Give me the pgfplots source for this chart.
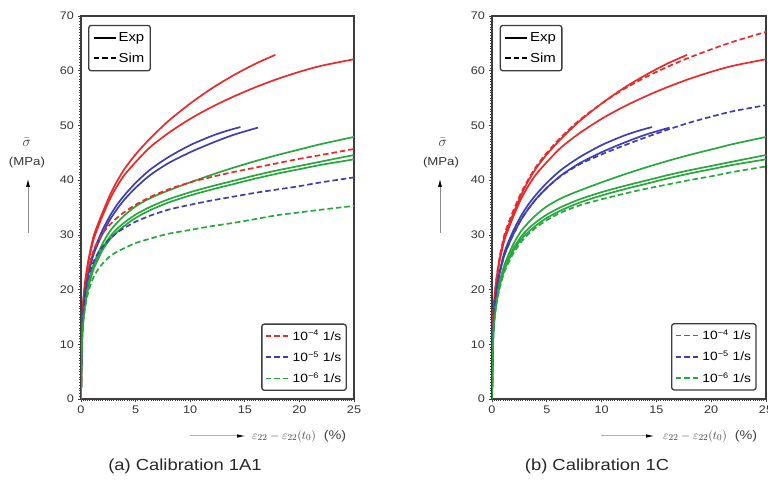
\documentclass[border=0pt]{standalone}
\usepackage{pgfplots}
\pgfplotsset{compat=1.18}
\usepackage{pgfplotstable}
\usepackage{fontspec}
\setmainfont[FakeStretch=1.15]{Liberation Sans}
\usetikzlibrary{arrows.meta}

\definecolor{cred}{RGB}{236,40,40}
\definecolor{cblue}{RGB}{62,62,178}
\definecolor{cgreen}{RGB}{40,168,60}
\definecolor{frame}{RGB}{60,60,60}

% Experimental curves (same in both panels)
\pgfplotstableread{
x y
0 0
0.05 9
0.1 14
0.2 17.8
0.4 21.8
0.7 25.6
1.13 29.6
1.6 32.2
2 34.2
2.66 37.3
3.3 39.8
4 42.1
5 44.7
6.32 47.6
8 50.8
10 54
12 56.8
14 59.2
16 61.3
17.8 62.9
}\expRedA
\pgfplotstableread{
x y
0 0
0.05 9
0.1 14
0.2 17.6
0.4 21.5
0.7 25.3
1.13 29
1.6 31.6
2 33.6
2.66 36.6
3.3 38.9
4 41
5 43.3
6.32 46
8 48.6
10 51.2
12 53.4
14 55.3
16 57
18 58.5
20 59.8
22 60.9
25 62.1
}\expRedB
\pgfplotstableread{
x y
0 0
0.05 8
0.1 12.5
0.2 16
0.4 19.8
0.7 23.3
1.13 26.8
1.6 29.2
2 31
2.66 33.5
3.3 35.5
4 37.3
5 39.5
6.32 41.9
8 44.2
10 46.4
12 48.1
13.5 49.1
14.6 49.7
}\expBlueA
\pgfplotstableread{
x y
0 0
0.05 8
0.1 12.5
0.2 16
0.4 19.7
0.7 23
1.13 26.3
1.6 28.6
2 30.3
2.66 32.8
3.3 34.7
4 36.5
5 38.6
6.32 40.9
8 43.1
10 45.1
12 46.8
14 48.3
16.2 49.6
}\expBlueB
\pgfplotstableread{
x y
0 0
0.05 7
0.1 11
0.2 14.5
0.4 18
0.7 21.4
1.13 24.5
1.6 26.8
2 28.5
2.66 30.7
3.3 32.2
4 33.6
5 35.2
6.32 36.7
8 38.1
10 39.6
12 41
14 42.3
16 43.5
18 44.6
20 45.6
22 46.6
25 47.9
}\expGreenA
\pgfplotstableread{
x y
0 0
0.05 7
0.1 11
0.2 14.5
0.4 17.8
0.7 21
1.13 24
1.6 26.1
2 27.7
2.66 29.7
3.3 31.1
4 32.3
5 33.7
6.32 35.1
8 36.5
10 37.8
12 38.9
14 39.9
16 40.9
18 41.8
20 42.6
22 43.4
25 44.6
}\expGreenB
\pgfplotstableread{
x y
0 0
0.05 7
0.1 10.8
0.2 14.2
0.4 17.5
0.7 20.6
1.13 23.6
1.6 25.7
2 27.3
2.66 29.2
3.3 30.5
4 31.7
5 33.1
6.32 34.5
8 35.9
10 37.2
12 38.3
14 39.3
16 40.3
18 41.2
20 42
22 42.8
25 43.8
}\expGreenC

% Simulations, calibration 1A1
\pgfplotstableread{
x y
0 0
0.05 8
0.1 12.5
0.2 16.5
0.4 20.5
0.7 24
1.13 27
1.6 29
2 30.3
2.66 31.9
3.3 33.1
4 34.2
5 35.5
6.32 36.9
8 38.3
10 39.6
12 40.6
14 41.5
16 42.3
18 43.1
20 43.9
22 44.6
25 45.7
}\simARed
\pgfplotstableread{
x y
0 0
0.05 7.5
0.1 12
0.2 15.8
0.4 19.5
0.7 22.5
1.13 25
1.6 26.8
2 27.9
2.66 29.3
3.3 30.4
4 31.3
5 32.4
6.32 33.5
8 34.6
10 35.5
12 36.3
14 37
16 37.7
18 38.3
20 38.9
22 39.6
25 40.5
}\simABlue
\pgfplotstableread{
x y
0 0
0.05 7
0.1 10.5
0.2 13.8
0.4 17
0.7 19.8
1.13 22.2
1.6 23.8
2 24.8
2.66 26.1
3.3 26.9
4 27.6
5 28.5
6.32 29.3
8 30.2
10 30.9
12 31.6
14 32.2
16 32.9
18 33.6
20 34.1
22 34.6
25 35.3
}\simAGreen

% Simulations, calibration 1C
\pgfplotstableread{
x y
0 0
0.05 9
0.1 14
0.2 17.8
0.4 22
0.7 26
1.13 30
1.6 32.7
2 34.7
2.66 37.7
3.3 40.1
4 42.4
5 45
6.32 47.9
8 51
10 54
12 56.6
14 58.8
16 60.7
18 62.4
20 63.9
22 65.3
25 67.1
}\simCRed
\pgfplotstableread{
x y
0 0
0.05 8
0.1 12.5
0.2 16.2
0.4 19.8
0.7 23
1.13 26.3
1.6 28.6
2 30.3
2.66 32.8
3.3 34.7
4 36.5
5 38.6
6.32 40.8
8 42.9
10 44.7
12 46.3
14 47.8
16 49.2
18 50.5
20 51.6
22 52.6
25 53.7
}\simCBlue
\pgfplotstableread{
x y
0 0
0.05 7
0.1 10.8
0.2 14
0.4 17.3
0.7 20.3
1.13 23.2
1.6 25.3
2 26.8
2.66 28.7
3.3 30.1
4 31.3
5 32.7
6.32 34.1
8 35.4
10 36.5
12 37.5
14 38.4
16 39.2
18 40
20 40.7
22 41.5
25 42.5
}\simCGreen

\pgfplotsset{
  panel/.style={
    scale only axis, width=273pt, height=383pt,
    xmin=0, xmax=25, ymin=0, ymax=70,
    xtick={0,5,...,25}, ytick={0,10,...,70},
    tick align=outside, xtick pos=bottom, ytick pos=left,
    minor x tick num=24, minor y tick num=19,
    major tick length=3.5pt, minor tick length=1.8pt,
    axis line style={frame, line width=1.4pt},
    every tick/.style={frame, line width=0.7pt},
    tick label style={font=\fontsize{11}{12}\selectfont, text=black!80},
    /pgf/number format/assume math mode=true,
    legend image code/.code={\draw[##1, line width=1.8pt] (0pt,0pt) -- (22pt,0pt);},
  },
  legbox/.style={draw=frame, line width=1.3pt, rounded corners=2.5pt,
    cells={anchor=west}, inner xsep=3pt, fill=white},
  exp/.style={line width=1.7pt, solid, smooth, tension=0.45},
  sim/.style={line width=1.7pt, dash pattern=on 5.5pt off 3pt, smooth, tension=0.45},
}

\begin{document}
\begin{tikzpicture}
% ---------------- panel (a) ----------------
\begin{axis}[panel, at={(81pt,85pt)}, anchor=south west,
  legend style={legbox, at={(0.026,0.977)}, anchor=north west,
    font=\fontsize{13}{15}\selectfont, row sep=6pt, inner ysep=5pt, inner xsep=4pt}]
\addlegendimage{black, exp}\addlegendentry{Exp}
\addlegendimage{black, sim}\addlegendentry{Sim}
\addplot[cred, exp, forget plot] table {\expRedA};
\addplot[cred, exp, forget plot] table {\expRedB};
\addplot[cblue, exp, forget plot] table {\expBlueA};
\addplot[cblue, exp, forget plot] table {\expBlueB};
\addplot[cgreen, exp, forget plot] table {\expGreenA};
\addplot[cgreen, exp, forget plot] table {\expGreenB};
\addplot[cgreen, exp, forget plot] table {\expGreenC};
\addplot[cred, sim, forget plot] table {\simARed};
\addplot[cblue, sim, forget plot] table {\simABlue};
\addplot[cgreen, sim, forget plot] table {\simAGreen};
\end{axis}
\begin{axis}[scale only axis, width=273pt, height=383pt, at={(81pt,85pt)}, anchor=south west,
  hide axis, xmin=0, xmax=1, ymin=0, ymax=1,
  legend image code/.code={\draw[#1, line width=1.8pt] (0pt,0pt) -- (24pt,0pt);},
  legend style={legbox, at={(0.974,0.021)}, anchor=south east,
    font=\fontsize{12}{14}\selectfont, row sep=6pt, inner ysep=4pt}]
\addplot[draw=none, forget plot] coordinates {(0,0)};
\addlegendimage{cred, sim}\addlegendentry{10\textsuperscript{−4} 1/s}
\addlegendimage{cblue, sim}\addlegendentry{10\textsuperscript{−5} 1/s}
\addlegendimage{cgreen, sim}\addlegendentry{10\textsuperscript{−6} 1/s}
\end{axis}

% ---------------- panel (b) ----------------
\begin{axis}[panel, width=274pt, at={(492pt,85pt)}, anchor=south west,
  legend style={legbox, at={(0.028,0.977)}, anchor=north west,
    font=\fontsize{13}{15}\selectfont, row sep=6pt, inner ysep=5pt, inner xsep=4pt}]
\addlegendimage{black, exp}\addlegendentry{Exp}
\addlegendimage{black, sim}\addlegendentry{Sim}
\addplot[cred, exp, forget plot] table {\expRedA};
\addplot[cred, exp, forget plot] table {\expRedB};
\addplot[cblue, exp, forget plot] table {\expBlueA};
\addplot[cblue, exp, forget plot] table {\expBlueB};
\addplot[cgreen, exp, forget plot] table {\expGreenA};
\addplot[cgreen, exp, forget plot] table {\expGreenB};
\addplot[cgreen, exp, forget plot] table {\expGreenC};
\addplot[cred, sim, forget plot] table {\simCRed};
\addplot[cblue, sim, forget plot] table {\simCBlue};
\addplot[cgreen, sim, forget plot] table {\simCGreen};
\end{axis}
\begin{axis}[scale only axis, width=274pt, height=383pt, at={(492pt,85pt)}, anchor=south west,
  hide axis, xmin=0, xmax=1, ymin=0, ymax=1,
  legend image code/.code={\draw[#1, line width=1.8pt] (0pt,0pt) -- (24pt,0pt);},
  legend style={legbox, at={(0.966,0.022)}, anchor=south east,
    font=\fontsize{12}{14}\selectfont, row sep=6pt, inner ysep=4pt}]
\addplot[draw=none, forget plot] coordinates {(0,0)};
\addlegendimage{cred, sim}\addlegendentry{10\textsuperscript{−4} 1/s}
\addlegendimage{cblue, sim}\addlegendentry{10\textsuperscript{−5} 1/s}
\addlegendimage{cgreen, sim}\addlegendentry{10\textsuperscript{−6} 1/s}
\end{axis}

% ---------------- axis labels and captions ----------------
\node[font=\fontsize{14}{15}\selectfont, text=black!80] at (27pt,342pt) {$\bar{\sigma}$};
\node[font=\fontsize{11.5}{12}\selectfont, text=black!80] at (27pt,321pt) {(MPa)};
\draw[black!45, line width=0.7pt, -{Latex[length=8pt,width=4pt,black]}] (28pt,251pt) -- (28pt,305pt);
\node[font=\fontsize{14}{15}\selectfont, text=black!80] at (443pt,342pt) {$\bar{\sigma}$};
\node[font=\fontsize{11.5}{12}\selectfont, text=black!80] at (441pt,321pt) {(MPa)};
\draw[black!45, line width=0.7pt, -{Latex[length=8pt,width=4pt,black]}] (440pt,251pt) -- (440pt,305pt);

\draw[black!30, line width=1pt, -{Latex[length=9pt,width=3.5pt,black]}] (190pt,48pt) -- (246pt,48pt);
\node[anchor=west, font=\fontsize{12.5}{14}\selectfont, text=black!75, inner sep=0pt] at (252pt,48pt) {$\varepsilon_{22}-\varepsilon_{22}(t_0)$\ \ (\%)};
\draw[black!30, line width=1pt, -{Latex[length=9pt,width=3.5pt,black]}] (601pt,48pt) -- (655pt,48pt);
\node[anchor=west, font=\fontsize{12.5}{14}\selectfont, text=black!75, inner sep=0pt] at (663pt,48pt) {$\varepsilon_{22}-\varepsilon_{22}(t_0)$\ \ (\%)};

\node[font=\fontsize{16}{18}\selectfont, text=black!85] at (185pt,18pt) {(a) Calibration 1A1};
\node[font=\fontsize{16}{18}\selectfont, text=black!85] at (597pt,18pt) {(b) Calibration 1C};

\pgfresetboundingbox
\path (0pt,0pt) rectangle (768pt,484pt);
\end{tikzpicture}
\end{document}
